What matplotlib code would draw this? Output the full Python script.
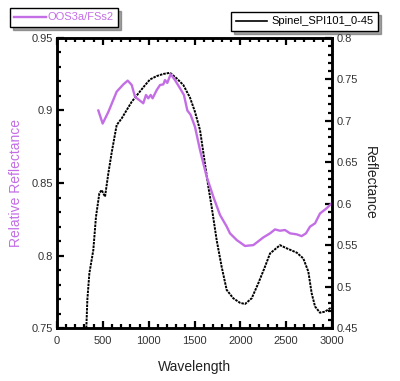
import matplotlib
matplotlib.use("Agg")
import matplotlib.pyplot as plt
from matplotlib.ticker import MultipleLocator

plt.rcParams['font.family'] = ['Liberation Sans', 'DejaVu Sans']

# relative reflectance of OOS3a/FSs2 (left axis)
wl_oos = [451, 498, 560, 651, 724, 771, 815, 851, 887, 941, 971, 996, 1022, 1043,
          1087, 1124, 1160, 1178, 1203, 1240, 1287, 1342, 1385, 1422, 1458, 1505,
          1560, 1633, 1705, 1778, 1851, 1887, 1960, 2051, 2142, 2251, 2324, 2378,
          2433, 2487, 2542, 2615, 2669, 2716, 2760, 2815, 2869, 2942, 2997]
refl_oos = [0.900, 0.891, 0.899, 0.913, 0.918, 0.9206, 0.9176, 0.9095, 0.9077, 0.905,
            0.9107, 0.9084, 0.9107, 0.9084, 0.914, 0.9176, 0.918, 0.921, 0.919, 0.925,
            0.921, 0.9153, 0.9107, 0.900, 0.897, 0.8888, 0.8728, 0.8543, 0.8406, 0.828,
            0.820, 0.8153, 0.8107, 0.8066, 0.8072, 0.8125, 0.8153, 0.818, 0.8171, 0.8176,
            0.8153, 0.8146, 0.8134, 0.8153, 0.8199, 0.8222, 0.829, 0.8326, 0.836]

# spinel reference spectrum (right axis)
wl_sp = [320, 331, 353, 396, 425, 462, 487, 524, 560, 597, 651, 706, 760, 815, 887,
         960, 1015, 1087, 1160, 1233, 1305, 1378, 1451, 1505, 1560, 1596, 1651, 1687,
         1742, 1796, 1851, 1923, 1996, 2051, 2124, 2196, 2269, 2324, 2378, 2433, 2506,
         2615, 2687, 2742, 2778, 2815, 2869, 2924, 2978, 3000]
refl_sp = [0.450, 0.484, 0.516, 0.544, 0.584, 0.6126, 0.6165, 0.6085, 0.6367, 0.662,
           0.695, 0.703, 0.713, 0.723, 0.733, 0.743, 0.750, 0.754, 0.7566, 0.758, 0.7513,
           0.7433, 0.728, 0.711, 0.689, 0.662, 0.6205, 0.5964, 0.556, 0.524, 0.496,
           0.4859, 0.4805, 0.479, 0.4859, 0.504, 0.524, 0.540, 0.545, 0.550, 0.5462,
           0.541, 0.534, 0.518, 0.492, 0.476, 0.4685, 0.4698, 0.4738, 0.475]

purple = '#c46ee6'

fig = plt.figure(figsize=(4.0, 3.81), dpi=100)
ax = fig.add_axes([0.1425, 0.139, 0.6875, 0.7613])
ax2 = ax.twinx()

l1, = ax.plot(wl_oos, refl_oos, color=purple, lw=1.7)
l2, = ax2.plot(wl_sp, refl_sp, color='black', lw=1.4, linestyle=(0, (1.3, 0.5)))
ax.set_zorder(ax2.get_zorder() + 1)
ax.patch.set_visible(False)

ax.set_xlim(0, 3000)
ax.set_ylim(0.75, 0.95)
ax2.set_ylim(0.45, 0.8)

ax.xaxis.set_major_locator(MultipleLocator(500))
ax.xaxis.set_minor_locator(MultipleLocator(100))
ax.yaxis.set_major_locator(MultipleLocator(0.05))
ax.yaxis.set_minor_locator(MultipleLocator(0.01))
ax2.yaxis.set_major_locator(MultipleLocator(0.05))
ax2.yaxis.set_minor_locator(MultipleLocator(0.01))

ax.set_yticks([0.75, 0.8, 0.85, 0.9, 0.95], ['0.75', '0.8', '0.85', '0.9', '0.95'])
ax2.set_yticks([0.45, 0.5, 0.55, 0.6, 0.65, 0.7, 0.75, 0.8],
               ['0.45', '0.5', '0.55', '0.6', '0.65', '0.7', '0.75', '0.8'])

for a in (ax, ax2):
    for s in a.spines.values():
        s.set_linewidth(1.8)
ax.tick_params(axis='x', which='both', direction='in', top=True, labelsize=8,
               labelcolor='#333333', width=1.6, pad=6)
ax.tick_params(axis='y', which='both', direction='in', labelsize=8,
               labelcolor='#333333', width=1.6, pad=3)
ax2.tick_params(axis='y', which='both', direction='in', labelsize=8,
                labelcolor='#333333', width=1.6, pad=3)
ax.tick_params(which='major', length=5)
ax.tick_params(which='minor', length=3)
ax2.tick_params(which='major', length=5)
ax2.tick_params(which='minor', length=3)

ax.set_xlabel('Wavelength', fontsize=10, color='#222222', labelpad=10)
ax.set_ylabel('Relative Reflectance', fontsize=10, color=purple, labelpad=6)
ax2.set_ylabel('Reflectance', fontsize=10, color='#222222', rotation=270, labelpad=14)

lg1 = fig.legend([l1], ['OOS3a/FSs2'], loc='upper left',
                 bbox_to_anchor=(10 / 400, 1 - 8 / 381), fontsize=8, frameon=True,
                 fancybox=False, shadow=True, edgecolor='black', handlelength=2.8,
                 borderpad=0.4, borderaxespad=0, handletextpad=0.2)
for t in lg1.get_texts():
    t.set_color(purple)
lg2 = fig.legend([plt.Line2D([], [], color='black', lw=1.2)], ['Spinel_SPI101_0-45'],
                 loc='upper right', bbox_to_anchor=(378 / 400, 1 - 12 / 381), fontsize=8,
                 frameon=True, fancybox=False, shadow=True, edgecolor='black',
                 handlelength=2.8, borderpad=0.4, borderaxespad=0, handletextpad=0.4)

fig.savefig('out.png', dpi=100)
